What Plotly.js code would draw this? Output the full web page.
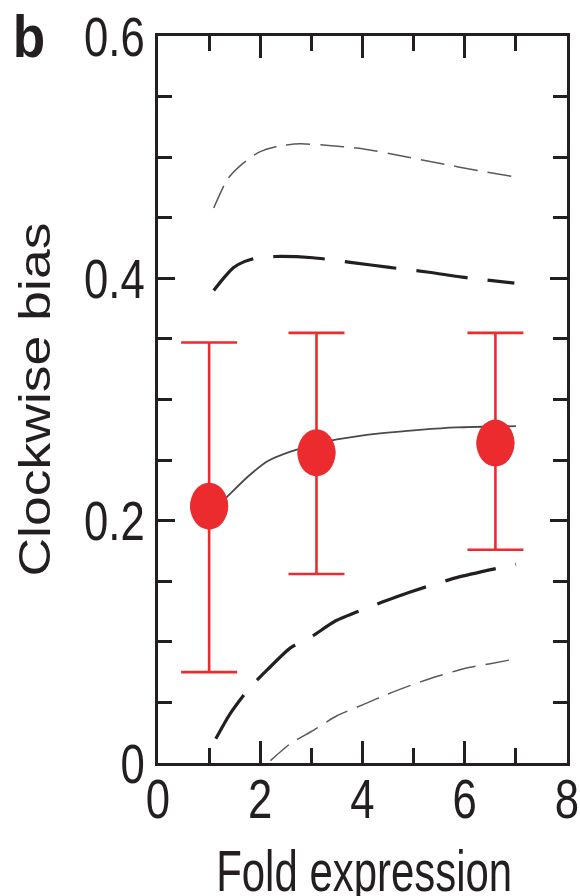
<!DOCTYPE html>
<html>
<head>
<meta charset="utf-8">
<script src="https://cdn.plot.ly/plotly-3.0.1.min.js"></script>
<style>
  html, body { margin: 0; padding: 0; background: #ffffff; }
  #chart { width: 580px; height: 896px; }
</style>
</head>
<body>
<div id="chart"></div>
<script>
// ---- Data ----
// Measured points (fold expression vs clockwise bias) with error bar limits
var foldExpr   = [1.0, 3.1, 6.6];
var cwBias     = [0.212, 0.256, 0.264];
var errTop     = [0.347, 0.355, 0.355];
var errBottom  = [0.075, 0.156, 0.176];

// Model curves (top to bottom)
var curveA_x = [1.09, 1.36, 1.61, 1.97, 2.33, 2.78, 3.23, 4.0, 4.77, 5.5, 6.25, 6.95];
var curveA_y = [0.458, 0.482, 0.493, 0.504, 0.509, 0.511, 0.510, 0.507, 0.501, 0.495, 0.489, 0.484];

var curveB_x = [1.09, 1.3, 1.48, 1.7, 1.94, 2.3, 3.03, 3.8, 4.53, 5.3, 5.95, 6.97];
var curveB_y = [0.390, 0.401, 0.409, 0.414, 0.417, 0.418, 0.417, 0.413, 0.409, 0.405, 0.401, 0.396];

var curveC_x = [1.0, 1.36, 1.75, 2.14, 2.59, 3.1, 3.5, 4.34, 5.12, 5.84, 7.0];
var curveC_y = [0.205, 0.220, 0.236, 0.249, 0.257, 0.263, 0.267, 0.272, 0.275, 0.277, 0.278];

var curveD_x = [1.13, 1.4, 1.77, 2.14, 2.59, 3.03, 3.46, 4.4, 4.92, 5.84, 7.0];
var curveD_y = [0.020, 0.040, 0.061, 0.077, 0.095, 0.105, 0.117, 0.133, 0.141, 0.153, 0.164];

var curveE_x = [2.2, 2.59, 3.0, 3.5, 4.0, 4.5, 5.0, 5.5, 6.0, 6.5, 7.0];
var curveE_y = [0.002, 0.016, 0.026, 0.039, 0.048, 0.057, 0.065, 0.072, 0.078, 0.082, 0.086];

// Axis ticks
var xTickVals = [0, 2, 4, 6, 8];
var xTickText = ['0', '2', '4', '6', '8'];
var yTickVals = [0, 0.2, 0.4, 0.6];
var yTickText = ['0', '0.2', '0.4', '0.6'];

// Text
var panelLabel = 'b';
var xTitle = 'Fold expression';
var yTitle = 'Clockwise bias';

// ---- Styling ----
var INK = '#231f20';
var RED = '#ec2b2f';
var FONT = '"Liberation Sans", Arial, sans-serif';

function curve(x, y, color, width, dash) {
  return {
    type: 'scatter', mode: 'lines', x: x, y: y,
    line: { color: color, width: width, dash: dash, shape: 'spline', smoothing: 0.6 },
    hoverinfo: 'skip', showlegend: false
  };
}

var errPlus = cwBias.map(function (v, i) { return errTop[i] - v; });
var errMinus = cwBias.map(function (v, i) { return v - errBottom[i]; });

var traces = [
  curve(curveA_x, curveA_y, '#5a5a5a', 1.5, '24px,10px'),
  curve(curveB_x, curveB_y, INK, 3.2, '52px,20px'),
  curve(curveC_x, curveC_y, '#4a4a4a', 1.8, 'solid'),
  curve(curveD_x, curveD_y, INK, 3.2, '52px,20px'),
  curve(curveE_x, curveE_y, '#5a5a5a', 1.5, '24px,10px'),
  {
    type: 'scatter', mode: 'markers', x: foldExpr, y: cwBias,
    marker: { color: RED, size: 38, line: { width: 0 } },
    error_y: { type: 'data', symmetric: false, array: errPlus, arrayminus: errMinus,
               color: RED, thickness: 2.6, width: 28 },
    showlegend: false
  }
];

// elliptical dots (the reference dots are taller than wide), anchored at the data
var shapes = foldExpr.map(function (xv, i) {
  return {
    type: 'circle', xref: 'x', yref: 'y',
    xsizemode: 'pixel', ysizemode: 'pixel',
    xanchor: xv, yanchor: cwBias[i],
    x0: -19, x1: 19, y0: -23.5, y1: 23.5,
    fillcolor: RED, line: { width: 0 }, layer: 'above'
  };
});

var axisCommon = {
  showgrid: false, zeroline: false,
  showline: true, linecolor: INK, linewidth: 3,
  mirror: 'ticks', ticks: 'inside', tickcolor: INK, tickwidth: 3,
  tickfont: { family: FONT, size: 56, color: INK },
  ticklabeloverflow: 'allow',
  fixedrange: true
};

var layout = {
  width: 580, height: 896,
  margin: { l: 158, r: 13, t: 36, b: 133, pad: 0 },
  paper_bgcolor: '#ffffff', plot_bgcolor: '#ffffff',
  showlegend: false,
  xaxis: Object.assign({}, axisCommon, {
    range: [0, 8], tickmode: 'array', tickvals: xTickVals, ticktext: xTickText,
    ticklen: 22, ticklabelstandoff: -15,
    minor: { dtick: 1, tick0: 0, ticklen: 15, tickwidth: 3, tickcolor: INK, ticks: 'inside' }
  }),
  yaxis: Object.assign({}, axisCommon, {
    range: [0, 0.6], tickmode: 'array', tickvals: yTickVals, ticktext: yTickText,
    ticklen: 17, ticklabelstandoff: -1,
    minor: { dtick: 0.05, tick0: 0, ticklen: 14, tickwidth: 3, tickcolor: INK, ticks: 'inside' }
  }),
  shapes: shapes,
  annotations: [
    { text: xTitle, xref: 'paper', yref: 'paper', x: 0.5046, y: -0.1486,
      xanchor: 'center', yanchor: 'middle', showarrow: false,
      font: { family: FONT, size: 57, color: INK } },
    { text: yTitle, xref: 'paper', yref: 'paper', x: -0.303, y: 0.4993, textangle: -90,
      xanchor: 'center', yanchor: 'middle', showarrow: false,
      font: { family: FONT, size: 44, color: INK } },
    { text: panelLabel, xref: 'paper', yref: 'paper', x: -0.3154, y: 0.998,
      xanchor: 'center', yanchor: 'middle', showarrow: false,
      font: { family: FONT, size: 59, color: INK, weight: 'bold' } }
  ]
};

// The reference figure is stretched vertically: horizontal text looks condensed,
// the rotated axis title looks elongated. Reproduce that with textLength.
function fitText(el, target) {
  var w = el.getComputedTextLength();
  if (!w) return;
  el.setAttribute('lengthAdjust', 'spacingAndGlyphs');
  el.setAttribute('textLength', target(w));
}

Plotly.newPlot('chart', traces, layout, { displayModeBar: false, staticPlot: true }).then(function (gd) {
  gd.querySelectorAll('.xtick text, .ytick text').forEach(function (t) {
    fitText(t, function (w) { return w * 0.78; });
  });
  var ann = gd.querySelectorAll('.annotation-text');
  if (ann[0]) fitText(ann[0], function () { return 296; });
  if (ann[1]) fitText(ann[1], function () { return 354; });
  if (ann[2]) fitText(ann[2], function (w) { return w * 0.9; });
});
</script>
</body>
</html>
